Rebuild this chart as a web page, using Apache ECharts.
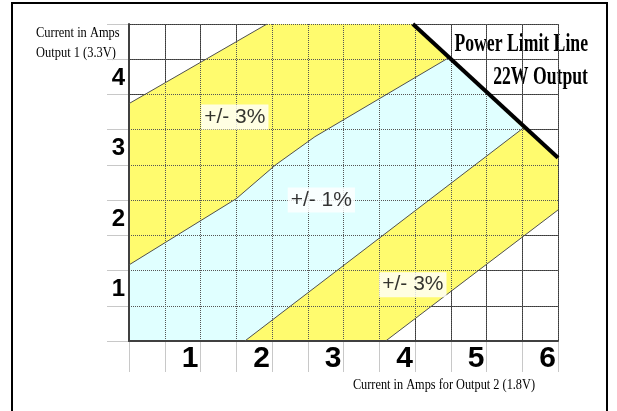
<!DOCTYPE html>
<html>
<head>
<meta charset="utf-8">
<script src="https://cdn.jsdelivr.net/npm/echarts@6/dist/echarts.min.js"></script>
<style>
  html, body { margin: 0; padding: 0; background: #fff; }
  #chart { width: 617px; height: 411px; }
</style>
</head>
<body>
<div id="chart"></div>
<script>
// load regulation chart - Output 2 current (x) vs Output 1 current (y), amps
var xMax = 6;
var yMax = 4.5;
var powerLimit = [[3.97, 4.5], [6, 2.6]];
var outerUpper = [[0, 3.37], [1.93, 4.5]];
var innerUpper = [[0, 1.08], [1.5, 2.02], [2.05, 2.5], [2.6, 2.9], [4.47, 4.02]];
var innerLower = [[1.62, 0], [5.51, 3.02]];
var outerLower = [[3.59, 0], [6, 1.86]];
var bandNames = ['+/- 3%', '+/- 1%', '+/- 3%'];
var bandSpots = [[1.48, 3.18], [2.69, 2.0], [3.97, 0.8]];

(function() {
  var chart = echarts.init(document.getElementById('chart'), null, { renderer: 'canvas' });

  var numFont = "'Liberation Sans Narrow', 'Liberation Sans', Arial, sans-serif";
  var serif = "'Liberation Serif', 'DejaVu Serif', serif";
  var yellow = '#FFFB6E';
  var cyan = '#E0FFFF';

  // closed outlines built from the boundary lines
  var band3 = outerUpper.concat(powerLimit, outerLower.slice().reverse(), [[0, 0]]);
  var band1 = innerUpper.concat(innerLower.slice().reverse(), [[0, 0]]);
  var fills = [band3, band1];
  var fillColors = [yellow, cyan];

  function isInt(v) { return v > 0 && v % 1 === 0; }

  function edge(pts, width, color, z) {
    return {
      type: 'line', data: pts, symbol: 'none', silent: true, z: z,
      lineStyle: { color: color, width: width }
    };
  }

  chart.setOption({
    animation: false,
    grid: { left: 129, top: 24, right: 59, bottom: 70 },
    xAxis: [
      {
        type: 'value', min: 0, max: xMax, interval: 0.5,
        axisLine: { show: false },
        axisTick: { show: true, length: 31, lineStyle: { color: '#c8c8c8' } },
        axisLabel: {
          formatter: function(v) { return isInt(v) ? String(v) : ''; },
          align: 'right', margin: 3, padding: [0, 2, 0, 0],
          color: '#000', fontSize: 30, fontWeight: 'bold', fontFamily: numFont
        },
        splitLine: { show: true, lineStyle: { color: '#3a3a3a', width: 1 } }
      },
      {
        type: 'value', min: 0, max: xMax, interval: 0.5, position: 'bottom', z: 4,
        axisLine: { show: true, onZero: false, lineStyle: { color: '#404040', width: 2 } },
        axisTick: { show: false }, axisLabel: { show: false },
        splitLine: { show: true, lineStyle: { color: '#555', width: 1, type: [1, 1] } }
      }
    ],
    yAxis: [
      {
        type: 'value', min: 0, max: yMax, interval: 0.5,
        axisLine: { show: false },
        axisTick: { show: true, length: 22, lineStyle: { color: '#c8c8c8' } },
        axisLabel: {
          // blank first line drops the digit just below its grid line
          formatter: function(v) { return isInt(v) ? ' \n' + v : ''; },
          margin: 4, lineHeight: 38, verticalAlign: 'middle',
          color: '#000', fontSize: 24, fontWeight: 'bold', fontFamily: numFont
        },
        splitLine: { show: true, lineStyle: { color: '#3a3a3a', width: 1 } }
      },
      {
        type: 'value', min: 0, max: yMax, interval: 0.5, position: 'left', z: 4,
        axisLine: { show: true, onZero: false, lineStyle: { color: '#404040', width: 2 } },
        axisTick: { show: false }, axisLabel: { show: false },
        splitLine: { show: true, lineStyle: { color: '#555', width: 1, type: [1, 1] } }
      }
    ],
    series: [
      {
        type: 'custom', silent: true, z: 2,
        data: fills.map(function(f, i) { return [i]; }),
        renderItem: function(params, api) {
          var pts = fills[params.dataIndex].map(function(p) { return api.coord(p); });
          return { type: 'polygon', shape: { points: pts }, style: { fill: fillColors[params.dataIndex] } };
        }
      },
      edge(outerUpper, 1, '#505050', 5),
      edge(innerUpper, 1, '#505050', 5),
      edge(innerLower, 1, '#505050', 5),
      edge(outerLower, 1, '#505050', 5),
      edge(powerLimit, 4, '#000', 6),
      {
        type: 'scatter', symbolSize: 0, silent: true, z: 7,
        data: bandSpots.map(function(p, i) { return { name: bandNames[i], value: p }; }),
        label: {
          show: true, position: 'inside', formatter: '{b}',
          color: '#000', fontSize: 21, fontFamily: "'Liberation Sans', Arial, sans-serif",
          backgroundColor: '#fff', padding: [3, 3, 1, 3]
        }
      }
    ],
    graphic: [
      { type: 'rect', shape: { x: 12, y: 3, width: 595, height: 420 },
        style: { fill: 'none', stroke: '#000', lineWidth: 2 }, z: 10 },
      { type: 'text', x: 36, y: 26, scaleX: 0.83,
        style: { text: 'Current in Amps', font: '15px ' + serif, fill: '#000' } },
      { type: 'text', x: 36, y: 46, scaleX: 0.83,
        style: { text: 'Output 1 (3.3V)', font: '15px ' + serif, fill: '#000' } },
      { type: 'text', x: 535, y: 378, scaleX: 0.82,
        style: { text: 'Current in Amps for Output 2 (1.8V)', font: '15px ' + serif, fill: '#000', align: 'right' } },
      { type: 'text', x: 588, y: 31, scaleX: 0.68,
        style: { text: 'Power Limit Line', font: 'bold 26px ' + serif, fill: '#000', align: 'right' } },
      { type: 'text', x: 588, y: 64, scaleX: 0.68,
        style: { text: '22W Output', font: 'bold 26px ' + serif, fill: '#000', align: 'right' } }
    ]
  });
  window.addEventListener('resize', function() { chart.resize(); });
})();
</script>
</body>
</html>
